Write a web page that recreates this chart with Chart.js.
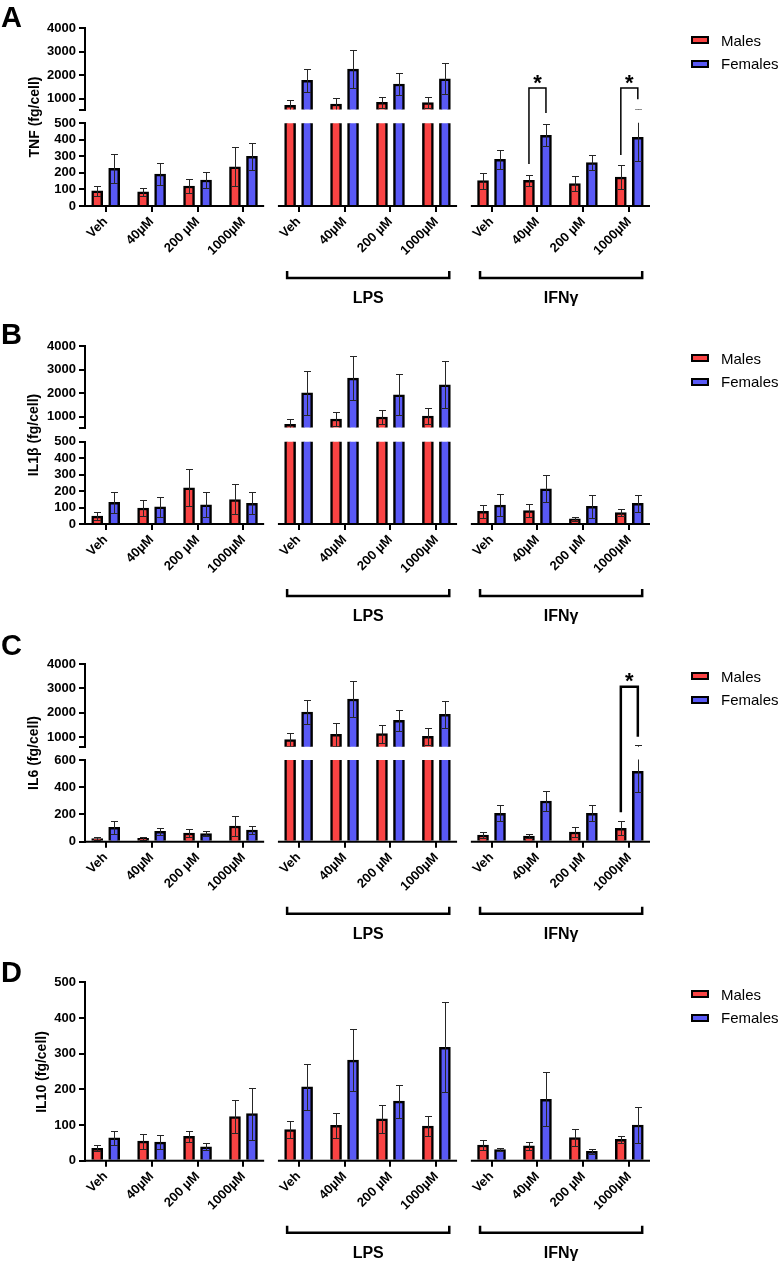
<!DOCTYPE html>
<html><head><meta charset="utf-8">
<script src="https://cdn.jsdelivr.net/npm/chart.js@4.4.1/dist/chart.umd.min.js"></script>
<style>
html,body{margin:0;padding:0;background:#fff;}
#wrap{position:relative;width:778px;height:1269px;overflow:hidden;font-family:'Liberation Sans',Arial,sans-serif;color:#000;}
canvas{position:absolute;left:0;top:0;}
.letter{position:absolute;font-weight:bold;font-size:29px;line-height:29px;}
.ytitle{position:absolute;font-weight:bold;font-size:14px;line-height:14px;white-space:nowrap;transform:translate(-50%,-50%) rotate(-90deg);}
.leg{position:absolute;font-size:15px;line-height:15px;white-space:nowrap;}
.box{position:absolute;width:14px;height:4px;border:2px solid #000;}
</style></head><body><div id="wrap"></div>
<script>
// ---------- data ----------
const categories = ['Veh', '40µM', '200 µM', '1000µM'];
const groupNames = ['', 'LPS', 'IFNγ'];
const seriesNames = ['Males', 'Females'];

// A: TNF
const tnfMales      = [92, 85, 121, 237, 718, 774, 845, 830, 153, 155, 135, 175];
const tnfMalesSem   = [29, 26, 42, 118, 240, 268, 225, 226, 48, 34, 44, 71];
const tnfFemales    = [228, 193, 157, 300, 1777, 2257, 1621, 1847, 282, 427, 262, 415];
const tnfFemalesSem = [86, 65, 48, 80, 494, 791, 481, 650, 56, 66, 44, 145];
// B: IL1β
const il1bMales      = [48, 97, 220, 149, 675, 901, 986, 1028, 77, 81, 32, 69];
const il1bMalesSem   = [23, 48, 113, 91, 212, 297, 296, 325, 40, 40, 12, 20];
const il1bFemales    = [131, 105, 117, 125, 2017, 2638, 1932, 2356, 115, 214, 107, 125];
const il1bFemalesSem = [65, 61, 75, 67, 932, 947, 876, 1003, 65, 83, 71, 53];
// C: IL6
const il6Males      = [22, 25, 64, 115, 890, 1110, 1137, 1027, 49, 42, 71, 98];
const il6MalesSem   = [10, 9, 32, 76, 274, 479, 370, 357, 20, 17, 39, 52];
const il6Females    = [105, 76, 59, 86, 2027, 2562, 1685, 1932, 208, 299, 208, 517];
const il6FemalesSem = [49, 24, 19, 27, 507, 739, 438, 561, 59, 76, 59, 150];
// D: IL10
const il10Males      = [35, 55, 68, 124, 87, 99, 117, 97, 44, 42, 65, 60];
const il10MalesSem   = [9, 21, 16, 47, 24, 36, 39, 29, 13, 11, 23, 10];
const il10Females    = [64, 52, 39, 132, 207, 282, 167, 318, 31, 172, 26, 100];
const il10FemalesSem = [20, 19, 10, 73, 65, 88, 46, 126, 5, 76, 6, 51];

// tick labels
const upperTicks = [1000, 2000, 3000, 4000];
const lowerTicks500 = [0, 100, 200, 300, 400, 500];
const lowerTicks600 = [0, 200, 400, 600];

// significance annotations (category index, leg ends and top in lower-axis units)
const sigA = [{cat: 9, left: 254, right: 562, top: 713}, {cat: 11, left: 308, right: 646, top: 713}];
const sigC = [{cat: 11, left: 216, right: 771, top: 1138}];

// ---------- layout ----------
const W = 778, H = 1269;
const RED = '#F94343', BLUE = '#5959F5';
const FONT = "'Liberation Sans', Arial, sans-serif";
Chart.defaults.font.family = FONT;
const GAP = 4.2, OFF = 0.185, XH = 60, PLOT_RIGHT = 650, YW = 85;
const pos = k => Math.floor(k / 4) * GAP + (k % 4);
const tickPos = Array.from({length: 12}, (_, k) => pos(k));
const tickLabels = tickPos.map((_, k) => categories[k % 4]);

const panels = [
  {letter: 'A', letterTop: 3.3, title: 'TNF (fg/cell)', titleX: 33.5,
   males: tnfMales, malesSem: tnfMalesSem, females: tnfFemales, femalesSem: tnfFemalesSem,
   upper: {top: 28, bottom: 109.5, min: 540, max: 4000},
   lower: {top: 123.3, bottom: 206, max: 500, ticks: lowerTicks500},
   sig: sigA, sigWidth: 1.5, legendY: 40},
  {letter: 'B', letterTop: 319.6, title: 'IL1β (fg/cell)', titleX: 33,
   males: il1bMales, malesSem: il1bMalesSem, females: il1bFemales, femalesSem: il1bFemalesSem,
   upper: {top: 346, bottom: 427.5, min: 540, max: 4000},
   lower: {top: 441.7, bottom: 524, max: 500, ticks: lowerTicks500},
   sig: [], sigWidth: 1.5, legendY: 358},
  {letter: 'C', letterTop: 631.3, title: 'IL6 (fg/cell)', titleX: 33,
   males: il6Males, malesSem: il6MalesSem, females: il6Females, femalesSem: il6FemalesSem,
   upper: {top: 664, bottom: 746.7, min: 600, max: 4000},
   lower: {top: 760, bottom: 841.7, max: 600, ticks: lowerTicks600},
   sig: sigC, sigWidth: 2.5, legendY: 676},
  {letter: 'D', letterTop: 958, title: 'IL10 (fg/cell)', titleX: 41,
   males: il10Males, malesSem: il10MalesSem, females: il10Females, femalesSem: il10FemalesSem,
   upper: null,
   lower: {top: 982.3, bottom: 1160.7, max: 500, ticks: lowerTicks500},
   sig: [], sigWidth: 1.5, legendY: 994}
];

const wrap = document.getElementById('wrap');

function errPlugin(skipAbove) {
  return {
    id: 'errbars',
    afterDatasetsDraw(chart) {
      const {ctx, chartArea: a} = chart; const y = chart.scales.y;
      ctx.save();
      ctx.beginPath(); ctx.rect(a.left, a.top - 0.5, a.right - a.left, a.bottom - a.top + 0.5); ctx.clip();
      ctx.strokeStyle = '#262626'; ctx.lineWidth = 1;
      chart.data.datasets.forEach((ds, di) => {
        chart.getDatasetMeta(di).data.forEach((bar, k) => {
          const m = ds.data[k].y, s = ds.sem[k];
          if (skipAbove != null && m > skipAbove) return;
          const x = Math.round(bar.x) + 0.5;
          const yt = Math.round(y.getPixelForValue(m + s)) + 0.5;
          const yb = Math.round(y.getPixelForValue(m - s)) + 0.5;
          ctx.beginPath();
          ctx.moveTo(x, yb); ctx.lineTo(x, yt);
          ctx.moveTo(x - 3.5, yt); ctx.lineTo(x + 3.5, yt);
          ctx.moveTo(x - 3.5, yb); ctx.lineTo(x + 3.5, yb);
          ctx.stroke();
        });
      });
      ctx.restore();
    }
  };
}

function annotPlugin(sig, sigWidth) {
  return {
    id: 'annot',
    afterDraw(chart) {
      const {ctx, chartArea: a} = chart; const x = chart.scales.x, y = chart.scales.y;
      ctx.save();
      ctx.strokeStyle = '#000'; ctx.fillStyle = '#000';
      // x axis segments per group
      ctx.lineWidth = 2;
      for (let g = 0; g < 3; g++) {
        ctx.beginPath();
        ctx.moveTo(x.getPixelForValue(g * GAP - 0.45) - (g === 0 ? 1 : 0), a.bottom);
        ctx.lineTo(x.getPixelForValue(g * GAP + 3.45), a.bottom);
        ctx.stroke();
      }
      // group brackets + labels
      ctx.lineWidth = 2.5;
      ctx.font = 'bold 16px ' + FONT; ctx.textAlign = 'center'; ctx.textBaseline = 'middle';
      for (let g = 1; g < 3; g++) {
        const x0 = x.getPixelForValue(g * GAP - 0.25), x1 = x.getPixelForValue(g * GAP + 3.28);
        const by = a.bottom + 72;
        ctx.beginPath();
        ctx.moveTo(x0, by - 7); ctx.lineTo(x0, by); ctx.lineTo(x1, by); ctx.lineTo(x1, by - 7);
        ctx.stroke();
        ctx.fillText(groupNames[g], (x0 + x1) / 2, a.bottom + 93);
      }
      // significance
      ctx.lineWidth = sigWidth;
      ctx.font = 'bold 22px ' + FONT; ctx.textBaseline = 'alphabetic';
      sig.forEach(s => {
        const xl = x.getPixelForValue(pos(s.cat) - OFF), xr = x.getPixelForValue(pos(s.cat) + OFF);
        const yt = y.getPixelForValue(s.top);
        ctx.beginPath();
        ctx.moveTo(xl, y.getPixelForValue(s.left)); ctx.lineTo(xl, yt);
        ctx.lineTo(xr, yt); ctx.lineTo(xr, y.getPixelForValue(s.right));
        ctx.stroke();
        ctx.fillText('*', (xl + xr) / 2, yt + 1.5);
      });
      ctx.restore();
    }
  };
}

function makeChart(p, seg, isLower) {
  const c = document.createElement('canvas');
  c.width = W; c.height = H; wrap.appendChild(c);
  const tickFont = {family: FONT, size: 13, weight: 'bold'};
  const mk = (vals, sems, color, sign, name) => ({
    label: name,
    data: vals.map((v, k) => ({x: pos(k) + sign * OFF, y: v})),
    sem: sems,
    backgroundColor: color, borderColor: '#000', borderWidth: 2.5,
    barThickness: 11, grouped: false, clip: 0
  });
  const yMin = isLower ? 0 : seg.min;
  const yMax = seg.max;
  const yTicks = isLower ? seg.ticks : [seg.min].concat(upperTicks);
  new Chart(c, {
    type: 'bar',
    data: {datasets: [
      mk(p.males, p.malesSem, RED, -1, seriesNames[0]),
      mk(p.females, p.femalesSem, BLUE, 1, seriesNames[1])
    ]},
    options: {
      responsive: false, animation: false, events: [],
      layout: {padding: {left: 0, right: W - PLOT_RIGHT, top: seg.top, bottom: H - seg.bottom - (isLower ? XH : 0)}},
      scales: {
        x: {
          type: 'linear', min: -0.45, max: 2 * GAP + 3.45, display: isLower, offset: false,
          afterBuildTicks: s => { s.ticks = tickPos.map(v => ({value: v})); },
          afterFit: s => { if (isLower) { s.height = XH; } s.paddingLeft = 0; s.paddingRight = 0; },
          ticks: {autoSkip: false, minRotation: 45, maxRotation: 45, padding: 2, color: '#000', font: tickFont,
                  callback: (v, i) => tickLabels[i]},
          grid: {display: true, offset: false, drawOnChartArea: false, drawTicks: true, tickLength: 6, color: '#000', lineWidth: 2},
          border: {display: false}
        },
        y: {
          type: 'linear', min: yMin, max: yMax,
          afterBuildTicks: s => { s.ticks = yTicks.map(v => ({value: v})); },
          afterFit: s => { s.width = YW; },
          ticks: {autoSkip: false, color: '#000', font: tickFont, padding: 3,
                  callback: v => (!isLower && v === seg.min) ? '' : String(v)},
          grid: {display: true, drawOnChartArea: false, drawTicks: true, tickLength: 6, color: '#000', lineWidth: 2},
          border: {display: true, color: '#000', width: 2}
        }
      },
      plugins: {legend: {display: false}, tooltip: {enabled: false}}
    },
    plugins: isLower ? [errPlugin(p.upper ? seg.max : null), annotPlugin(p.sig, p.sigWidth)] : [errPlugin(null)]
  });
}

function addDiv(cls, text, style) {
  const d = document.createElement('div'); d.className = cls; d.textContent = text;
  Object.assign(d.style, style); wrap.appendChild(d); return d;
}

panels.forEach(p => {
  if (p.upper) makeChart(p, p.upper, false);
  makeChart(p, p.lower, true);
  addDiv('letter', p.letter, {left: '1px', top: p.letterTop + 'px'});
  const axTop = p.upper ? p.upper.top : p.lower.top;
  addDiv('ytitle', p.title, {left: p.titleX + 'px', top: ((axTop + p.lower.bottom) / 2) + 'px'});
  [RED, BLUE].forEach((col, i) => {
    const cy = p.legendY + i * 23.5;
    addDiv('box', '', {left: '691px', top: (cy - 4) + 'px', background: col});
    addDiv('leg', seriesNames[i], {left: '721px', top: (cy - 7.4) + 'px'});
  });
});
</script></body></html>
